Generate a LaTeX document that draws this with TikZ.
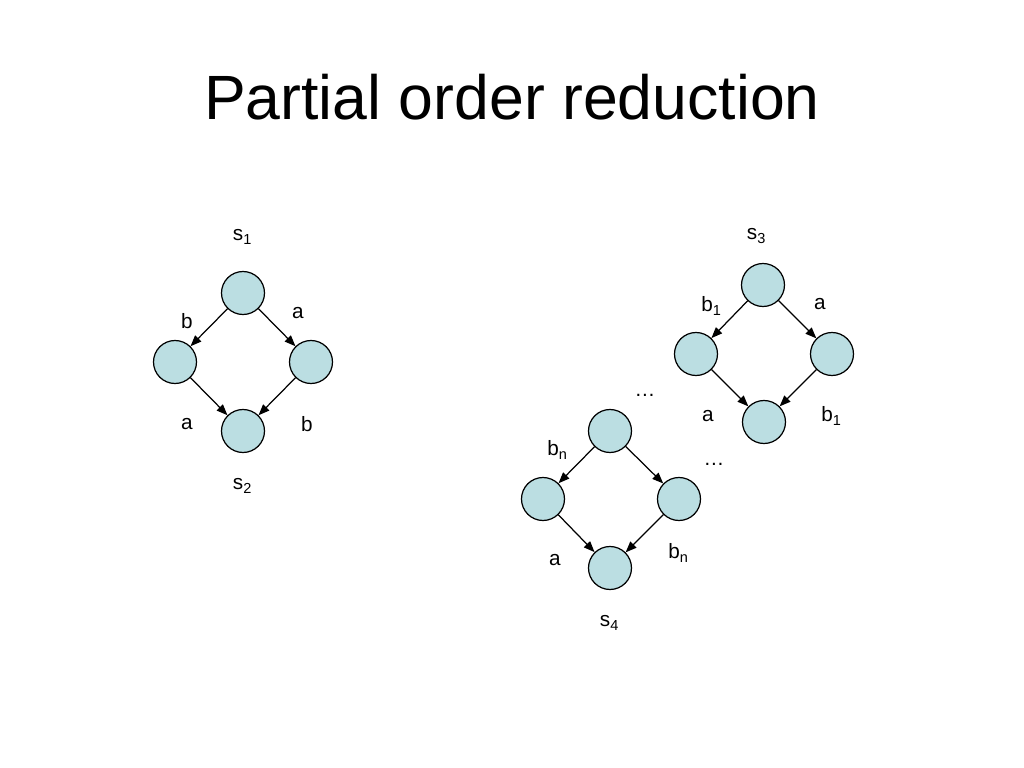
\documentclass[tikz,border=0pt]{standalone}
\usepackage{fontspec}
\setmainfont{Liberation Sans}
\usetikzlibrary{arrows.meta,positioning}
\definecolor{stfill}{RGB}{187,222,226}
\tikzset{
  st/.style={circle, draw=black, fill=stfill, minimum size=0.43cm, inner sep=0pt, line width=0.35pt},
  tr/.style={-{Triangle[length=1.1mm,width=0.85mm]}, line width=0.35pt},
  lbl/.style={font=\fontsize{5.9}{7}\selectfont, inner sep=0pt},
  ttl/.style={font=\fontsize{17.8}{22}\selectfont, inner sep=0pt},
}
\begin{document}
\begin{tikzpicture}
  \useasboundingbox (0,0) rectangle (10.24,-7.68);
  \node[ttl, anchor=base] (title) at (5.12,-1.20) {Partial order reduction};

  % first diamond
  \node[st] (t1) at (2.43,-2.93) {};
  \node[st] (l1) at (1.75,-3.62) {};
  \node[st] (r1) at (3.11,-3.62) {};
  \node[st] (b1) at (2.43,-4.31) {};
  \draw[tr] (t1) -- (l1);
  \draw[tr] (t1) -- (r1);
  \draw[tr] (l1) -- (b1);
  \draw[tr] (r1) -- (b1);
  \node[lbl] (s1) at (2.43,-2.37) {s\textsubscript{1}};
  \node[lbl] (s2) at (2.43,-4.86) {s\textsubscript{2}};
  \node[lbl] (lb1) at (1.87,-3.21) {b};
  \node[lbl] (la1) at (2.98,-3.13) {a};
  \node[lbl] (la2) at (1.87,-4.24) {a};
  \node[lbl] (lb2) at (3.07,-4.24) {b};

  % upper right diamond
  \node[st] (t3) at (7.63,-2.85) {};
  \node[st] (l3) at (6.96,-3.54) {};
  \node[st] (r3) at (8.32,-3.54) {};
  \node[st] (b3) at (7.64,-4.22) {};
  \draw[tr] (t3) -- (l3);
  \draw[tr] (t3) -- (r3);
  \draw[tr] (l3) -- (b3);
  \draw[tr] (r3) -- (b3);
  \node[lbl] (s3) at (7.57,-2.36) {s\textsubscript{3}};
  \node[lbl] (lb3) at (7.12,-3.06) {b\textsubscript{1}};
  \node[lbl] (la3) at (8.20,-3.04) {a};
  \node[lbl] (la4) at (7.08,-4.16) {a};
  \node[lbl] (lb4) at (8.32,-4.16) {b\textsubscript{1}};

  % lower diamond
  \node[st] (t4) at (6.10,-4.31) {};
  \node[st] (l4) at (5.43,-4.99) {};
  \node[st] (r4) at (6.79,-4.99) {};
  \node[st] (b4) at (6.10,-5.68) {};
  \draw[tr] (t4) -- (l4);
  \draw[tr] (t4) -- (r4);
  \draw[tr] (l4) -- (b4);
  \draw[tr] (r4) -- (b4);
  \node[lbl] (s4) at (6.10,-6.23) {s\textsubscript{4}};
  \node[lbl] (lb5) at (5.58,-4.50) {b\textsubscript{n}};
  \node[lbl] (la5) at (5.55,-5.60) {a};
  \node[lbl] (lb6) at (6.79,-5.53) {b\textsubscript{n}};

  % dots
  \node[lbl] (dt1) at (6.45,-3.95) {…};
  \node[lbl] (dt2) at (7.14,-4.64) {…};
\end{tikzpicture}
\end{document}
